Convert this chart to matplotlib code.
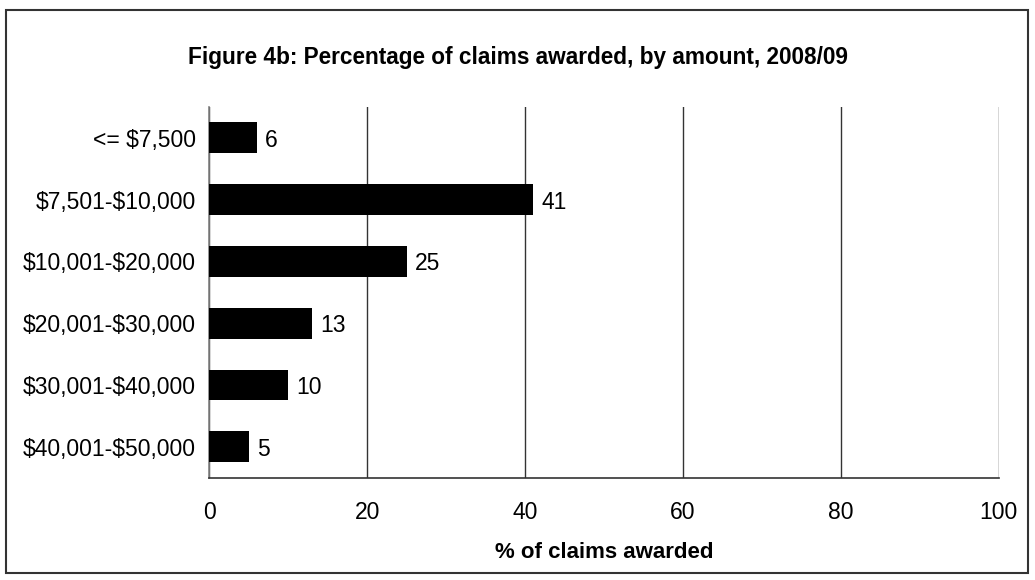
import matplotlib
matplotlib.use("Agg")
import matplotlib.pyplot as plt
from matplotlib.patches import Rectangle

plt.rcParams['font.family'] = ['Liberation Sans', 'DejaVu Sans']

categories = ["<= $7,500", "$7,501-$10,000", "$10,001-$20,000",
              "$20,001-$30,000", "$30,001-$40,000", "$40,001-$50,000"]
values = [6, 41, 25, 13, 10, 5]
xticks = [0, 20, 40, 60, 80, 100]

FS = 16.5

fig = plt.figure(figsize=(10.35, 5.8), dpi=100)
ax = fig.add_axes([0.2024, 0.1764, 0.7626, 0.6391])

ypos = list(range(len(categories)))
ax.barh(ypos, values, height=0.5, color="black", zorder=3)
ax.set_ylim(len(categories) - 0.5, -0.5)
ax.set_xlim(0, 100)

for y, v in zip(ypos, values):
    ax.annotate(f"{v}", xy=(v, y), xytext=(6, 0), textcoords="offset points",
                ha="left", va="center_baseline", fontsize=FS, color="black")

ax.set_yticks(ypos)
ax.set_yticklabels(categories, fontsize=FS)
for lbl in ax.get_yticklabels():
    lbl.set_parse_math(False)
    lbl.set_va("center_baseline")
ax.set_xticks(xticks)
ax.set_xticklabels([str(t) for t in xticks], fontsize=FS)
ax.tick_params(axis="both", length=0)
ax.tick_params(axis="y", pad=10)
ax.tick_params(axis="x", pad=17)

ax.grid(axis="x", color="#333333", linewidth=1.0, zorder=0)
ax.grid(axis="y", visible=False)
for side in ["top", "right"]:
    ax.spines[side].set_visible(False)
ax.spines["left"].set_color("#808080")
ax.spines["left"].set_linewidth(1.2)
ax.spines["bottom"].set_color("#333333")
ax.spines["bottom"].set_linewidth(1.2)

fig.text(0.5, 0.9017, "Figure 4b: Percentage of claims awarded, by amount, 2008/09",
         ha="center", va="center", fontsize=16.3, fontweight="bold")
fig.text(0.5837, 0.047, "% of claims awarded", ha="center", va="center",
         fontsize=16, fontweight="bold")

fig.patches.append(Rectangle((6 / 1035, 1 - 573 / 580), 1022 / 1035, 563 / 580,
                             transform=fig.transFigure, fill=False,
                             edgecolor="#333333", linewidth=1.5))

fig.savefig("out.png", dpi=100)
